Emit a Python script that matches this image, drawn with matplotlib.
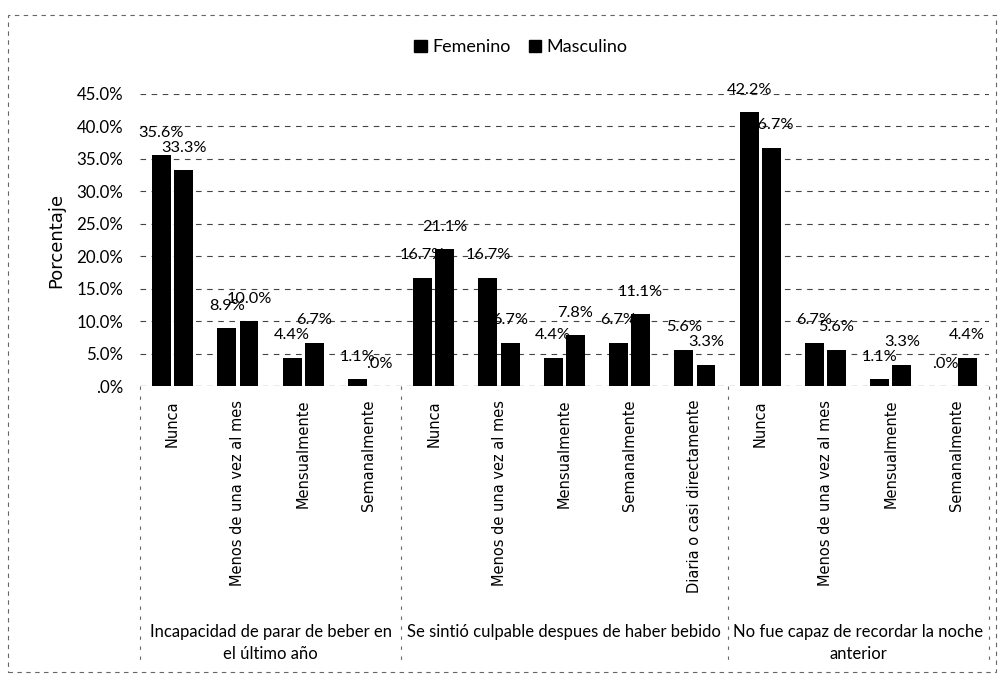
import matplotlib
matplotlib.use("Agg")
import matplotlib.pyplot as plt
from matplotlib.patches import Rectangle, Patch
from matplotlib.lines import Line2D
import numpy as np

# Data
groups = ["Incapacidad de parar de beber en\nel último año",
          "Se sintió culpable despues de haber bebido",
          "No fue capaz de recordar la noche\nanterior"]
group_cats = [
    ["Nunca", "Menos de una vez al mes", "Mensualmente", "Semanalmente"],
    ["Nunca", "Menos de una vez al mes", "Mensualmente", "Semanalmente",
     "Diaria o casi directamente"],
    ["Nunca", "Menos de una vez al mes", "Mensualmente", "Semanalmente"],
]
femenino = [35.6, 8.9, 4.4, 1.1,
            16.7, 16.7, 4.4, 6.7, 5.6,
            42.2, 6.7, 1.1, 0.0]
masculino = [33.3, 10.0, 6.7, 0.0,
             21.1, 6.7, 7.8, 11.1, 3.3,
             36.7, 5.6, 3.3, 4.4]
yticks = [0, 5, 10, 15, 20, 25, 30, 35, 40, 45]
ytick_labels = [".0%", "5.0%", "10.0%", "15.0%", "20.0%", "25.0%",
                "30.0%", "35.0%", "40.0%", "45.0%"]

num_font = "Lato"

cats = [c for g in group_cats for c in g]
x = np.arange(len(cats)) + 0.5

fig = plt.figure(figsize=(10.02, 6.75), dpi=100)
ax = fig.add_axes([0.1397, 0.428, 0.847, 0.433])

w = 0.29
b1 = ax.bar(x - 0.17, femenino, w, color="black")
b2 = ax.bar(x + 0.17, masculino, w, color="black")

# data labels
for bars, vals in ((b1, femenino), (b2, masculino)):
    for r, v in zip(bars, vals):
        txt = ".0%" if v == 0 else f"{v:.1f}%"
        ax.annotate(txt, (r.get_x() + r.get_width() / 2, v),
                    xytext=(0, 11), textcoords="offset points",
                    ha="center", va="bottom", fontsize=11.8,
                    family=num_font, clip_on=False)

ax.set_xlim(0, len(cats))
ax.set_ylim(0, 45)
ax.set_yticks(yticks)
ax.set_yticklabels(ytick_labels, family=num_font, fontsize=12.2)
ax.set_xticks(x)
ax.set_xticklabels(cats, rotation=90, fontsize=10.5, va="top")
ax.tick_params(axis="both", length=0)
ax.tick_params(axis="x", pad=10)
ax.tick_params(axis="y", pad=12)

for s in ax.spines.values():
    s.set_visible(False)
ax.set_axisbelow(True)
ax.grid(axis="y", color="#444444", linestyle=(0, (5, 5)), linewidth=0.8)
ax.axhline(0, color="#444444", linestyle=(0, (5, 5)), linewidth=0.8)

ax.set_ylabel("Porcentaje", fontsize=13, labelpad=8)

# group separators and group labels
trans = ax.get_xaxis_transform()
bounds = np.cumsum([0] + [len(g) for g in group_cats])
for bx in bounds:
    ax.add_line(Line2D([bx, bx], [0, -0.955], transform=trans,
                       color="#666666", linestyle=(0, (3, 6)),
                       linewidth=0.8, clip_on=False))
for i, g in enumerate(groups):
    cx = (bounds[i] + bounds[i + 1]) / 2
    ax.text(cx, -0.815, g, transform=trans, ha="center", va="top",
            fontsize=12, family=num_font, linespacing=1.45)

# legend
handles = [Patch(facecolor="black", edgecolor="black", label="Femenino"),
           Patch(facecolor="black", edgecolor="black", label="Masculino")]
fig.legend(handles=handles, loc="center", bbox_to_anchor=(0.52, 0.93),
           ncol=2, frameon=False, handlelength=0.7, handleheight=0.7,
           handletextpad=0.3, columnspacing=1.0,
           prop={"family": num_font, "size": 13})

# outer chart border
fig.patches.append(Rectangle((0.008, 0.005), 0.986, 0.973,
                             transform=fig.transFigure, fill=False,
                             edgecolor="#666666", linestyle=(0, (4, 4)),
                             linewidth=0.8))

fig.savefig("out.png", dpi=100)
